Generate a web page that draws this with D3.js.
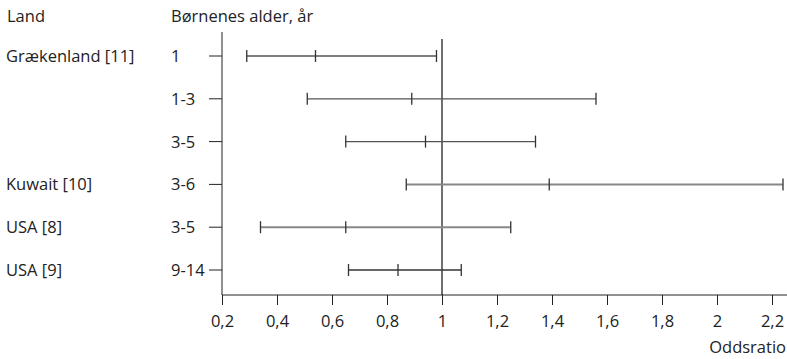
<!DOCTYPE html>
<html>
<head>
<meta charset="utf-8">
<style>
  body { margin: 0; background: #fff; }
  text { font-family: "Open Sans", "Noto Sans", sans-serif; font-size: 16.5px; fill: #222; }
</style>
</head>
<body>
<svg width="787" height="359"></svg>
<script src="https://d3js.org/d3.v7.min.js"></script>
<script>

// data
var countries = ["Grækenland [11]", "", "", "Kuwait [10]", "USA [8]", "USA [9]"];
var ages = ["1", "1-3", "3-5", "3-6", "3-5", "9-14"];
var lows = [0.29, 0.51, 0.65, 0.87, 0.34, 0.66];
var odds = [0.54, 0.89, 0.94, 1.39, 0.65, 0.84];
var highs = [0.98, 1.56, 1.34, 2.24, 1.25, 1.07];
var ticks = [0.2, 0.4, 0.6, 0.8, 1, 1.2, 1.4, 1.6, 1.8, 2, 2.2];

var lineColor = ["#555", "#555", "#555", "#888", "#888", "#333"];
var lineWidth = [1.3, 1.3, 1.3, 2, 2, 1.3];

var svg = d3.select("svg");
var x = d3.scaleLinear().domain([0.2, 2.2]).range([222, 772]);
var y = d3.scalePoint().domain(d3.range(ages.length)).range([56, 270]);
var axisY = 295;

var rows = ages.map(function(a, i) {
  return {i: i, country: countries[i], age: a, lo: lows[i], or: odds[i], hi: highs[i]};
});

// headers
svg.append("text").attr("x", 7).attr("y", 22).text("Land");
svg.append("text").attr("x", 171).attr("y", 22).text("Børnenes alder, år");

// vertical axis with row ticks
svg.append("line")
    .attr("x1", 222).attr("x2", 222).attr("y1", 32).attr("y2", axisY)
    .attr("stroke", "#222").attr("stroke-width", 1);
svg.selectAll(".rtick").data(rows).enter().append("line")
    .attr("x1", 209).attr("x2", 222)
    .attr("y1", function(d) { return y(d.i); })
    .attr("y2", function(d) { return y(d.i); })
    .attr("stroke", "#222");

svg.selectAll(".country").data(rows).enter().append("text")
    .attr("x", 6).attr("y", function(d) { return y(d.i) + 6; })
    .text(function(d) { return d.country; });
svg.selectAll(".age").data(rows).enter().append("text")
    .attr("x", 171).attr("y", function(d) { return y(d.i) + 6; })
    .text(function(d) { return d.age; });

// x axis
var xa = svg.append("g").attr("transform", "translate(0," + axisY + ")")
    .call(d3.axisBottom(x).tickValues(ticks).tickSize(10).tickPadding(10)
      .tickFormat(function(d) { return String(d).replace(".", ","); }));
xa.select(".domain").remove();
xa.append("line").attr("x1", 222).attr("x2", 787).attr("stroke", "#222");
xa.selectAll(".tick line").attr("stroke", "#222");
xa.selectAll(".tick text").attr("fill", "#222")
    .style("font-family", "'Open Sans', 'Noto Sans', sans-serif").style("font-size", "16.5px");

svg.append("text").attr("x", 786).attr("y", 353).attr("text-anchor", "end").text("Oddsratio");

// reference line at 1
svg.append("line")
    .attr("x1", x(1)).attr("x2", x(1)).attr("y1", 39).attr("y2", axisY)
    .attr("stroke", "#111").attr("stroke-width", 1.2);

// intervals
var g = svg.selectAll(".ci").data(rows).enter().append("g");
g.append("line")
    .attr("x1", function(d) { return x(d.lo); })
    .attr("x2", function(d) { return x(d.hi); })
    .attr("y1", function(d) { return y(d.i); })
    .attr("y2", function(d) { return y(d.i); })
    .attr("stroke", function(d) { return lineColor[d.i]; })
    .attr("stroke-width", function(d) { return lineWidth[d.i]; });
["lo", "or", "hi"].forEach(function(k) {
  g.append("line")
      .attr("x1", function(d) { return x(d[k]); })
      .attr("x2", function(d) { return x(d[k]); })
      .attr("y1", function(d) { return y(d.i) - 6; })
      .attr("y2", function(d) { return y(d.i) + 6; })
      .attr("stroke", "#333").attr("stroke-width", 1.3);
});

</script>
</body>
</html>
